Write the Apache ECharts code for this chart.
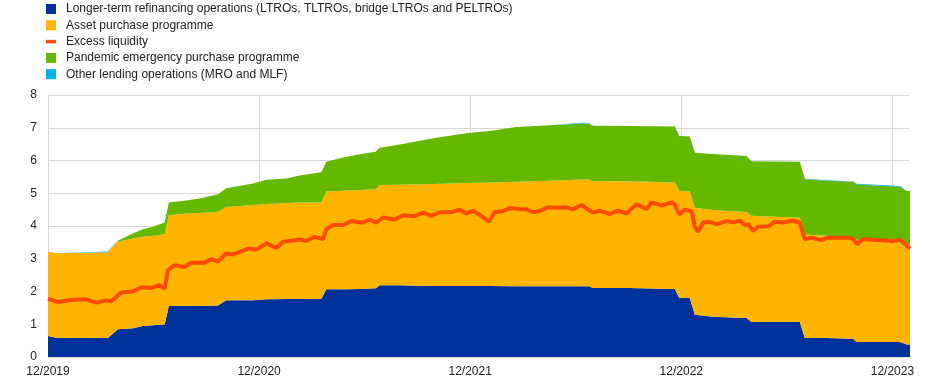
<!DOCTYPE html>
<html><head><meta charset="utf-8">
<script src="https://cdn.jsdelivr.net/npm/echarts@6/dist/echarts.min.js"></script>
<style>html,body{margin:0;padding:0;background:#fff}#c{width:948px;height:384px}</style>
</head><body><div id="c"></div>
<script>
// x positions: months since 12/2019
const xTickLabels = ['12/2019','12/2020','12/2021','12/2022','12/2023'];
const seriesNames = [
  'Longer-term refinancing operations (LTROs, TLTROs, bridge LTROs and PELTROs)',
  'Asset purchase programme',
  'Excess liquidity',
  'Pandemic emergency purchase programme',
  'Other lending operations (MRO and MLF)'
];
const months = [0,0.56,3.4,3.97,4.82,5.39,5.96,6.63,6.87,7.86,8.62,9.66,10.13,11.65,12.41,13.55,14.3,15.54,15.82,16.77,17.72,18.63,18.85,19.99,21.91,23.78,25.11,26.63,28.52,30.42,30.76,30.98,33.07,35.63,35.88,36.48,36.77,37.81,39.71,39.99,42.74,43.02,44.26,45.77,45.96,48.43,48.81,49.0];
const ltro = [0.64,0.58,0.58,0.85,0.88,0.95,0.97,0.99,1.56,1.56,1.56,1.57,1.73,1.73,1.76,1.77,1.77,1.78,2.07,2.07,2.08,2.10,2.19,2.19,2.17,2.17,2.17,2.16,2.16,2.16,2.16,2.11,2.11,2.08,1.81,1.80,1.29,1.23,1.19,1.07,1.07,0.58,0.58,0.56,0.46,0.46,0.38,0.38];
const app = [2.57,2.59,2.62,2.67,2.74,2.72,2.73,2.76,2.77,2.82,2.84,2.86,2.85,2.91,2.91,2.93,2.95,2.94,2.98,3.01,3.02,3.02,3.06,3.07,3.11,3.14,3.16,3.19,3.22,3.26,3.26,3.26,3.26,3.25,3.26,3.25,3.27,3.26,3.24,3.24,3.18,3.16,3.12,3.09,3.12,3.06,3.07,3.06];
const pepp = [0,0,0,0.03,0.15,0.23,0.28,0.36,0.39,0.40,0.44,0.54,0.57,0.66,0.74,0.75,0.82,0.92,0.91,1.01,1.09,1.15,1.14,1.23,1.40,1.52,1.57,1.67,1.70,1.71,1.70,1.69,1.68,1.71,1.68,1.68,1.68,1.71,1.71,1.67,1.71,1.69,1.68,1.70,1.69,1.68,1.62,1.63];
const other = [0,0,0.02,0,0,0,0,0,0,0,0,0,0,0,0,0,0,0,0,0,0,0,0,0,0,0,0,0,0,0.02,0.02,0,0,0,0,0,0,0,0,0,0,0.01,0.02,0.01,0.02,0.02,0.01,0.01];
const elMonths = [0,0.56,1.41,2.17,2.74,3.31,3.59,4.16,4.82,5.30,5.87,6.34,6.63,6.82,7.20,7.76,8.14,8.90,9.28,9.66,10.13,10.51,10.89,11.37,11.84,12.41,12.98,13.36,13.93,14.30,14.68,15.16,15.63,15.82,16.20,16.77,17.24,17.90,18.28,18.66,19.04,19.71,20.18,20.84,21.32,21.79,22.27,23.02,23.40,23.78,24.16,24.64,25.07,25.39,25.87,26.25,26.82,27.20,27.57,27.95,28.43,28.99,29.47,29.85,30.32,30.98,31.37,31.93,32.41,32.88,33.45,34.02,34.30,34.87,35.44,35.63,35.88,36.20,36.58,36.77,36.96,37.24,37.62,38.00,38.57,38.95,39.33,39.61,39.80,40.08,40.37,40.94,41.32,41.79,42.36,42.74,43.02,43.40,43.97,44.26,45.58,45.77,46.00,46.34,46.91,47.67,47.96,48.43,48.72,49.00];
const elValues = [1.78,1.68,1.75,1.76,1.66,1.73,1.70,1.97,2.00,2.13,2.11,2.19,2.09,2.65,2.80,2.75,2.88,2.88,2.99,2.91,3.16,3.13,3.21,3.31,3.28,3.47,3.33,3.52,3.56,3.59,3.54,3.67,3.60,3.90,4.03,4.03,4.15,4.10,4.20,4.10,4.26,4.20,4.33,4.30,4.41,4.31,4.42,4.43,4.50,4.38,4.47,4.30,4.13,4.43,4.45,4.55,4.51,4.51,4.42,4.46,4.57,4.56,4.57,4.51,4.64,4.41,4.47,4.36,4.47,4.38,4.66,4.52,4.72,4.62,4.72,4.66,4.35,4.50,4.45,3.98,3.82,4.11,4.13,4.05,4.15,4.11,4.16,4.03,4.05,3.85,3.98,3.99,4.13,4.11,4.16,4.10,3.59,3.64,3.57,3.64,3.64,3.60,3.44,3.60,3.58,3.56,3.53,3.58,3.45,3.31];

const colors = ['#003299','#FFB400','#FF4B00','#65B800','#00B1EA'];
const font = 'Arial, "Liberation Sans", sans-serif';
const chart = echarts.init(document.getElementById('c'));
function area(name, vals, color) {
  // value dimension first so that it is the stacked dimension
  return {
    name, type:'line', stack:'liq', symbol:'none', z:2, silent:true,
    dimensions:['v','m'], encode:{x:'m', y:'v'},
    lineStyle:{width:0}, itemStyle:{color}, areaStyle:{color, opacity:1},
    emphasis:{disabled:true},
    data: months.map((m,i)=>[vals[i], m])
  };
}
chart.setOption({
  animation:false,
  color: colors,
  grid:{left:48, right:38, top:95, bottom:27, containLabel:false},
  legend:{
    orient:'vertical', left:46, top:3, padding:0, itemWidth:10, itemHeight:10, itemGap:4.3,
    textStyle:{fontSize:12, fontFamily:font, color:'#222', padding:[0,0,0,5]},
    data:[
      {name:seriesNames[0], icon:'rect'},
      {name:seriesNames[1], icon:'rect'},
      {name:seriesNames[2], icon:'path://M0,0h10v3.5h-10z'},
      {name:seriesNames[3], icon:'rect'},
      {name:seriesNames[4], icon:'rect'}
    ]
  },
  xAxis:{
    type:'value', min:0, max:49, interval:12,
    axisLine:{show:false}, axisTick:{show:false},
    axisLabel:{fontSize:12, fontFamily:font, color:'#222', margin:9,
      formatter:v => (v % 12 === 0 ? xTickLabels[v/12] : '')},
    splitLine:{show:true, lineStyle:{color:['#d9d9d9','#d9d9d9','#d9d9d9','#d9d9d9','#d9d9d9','rgba(0,0,0,0)'], width:1}}
  },
  yAxis:{
    type:'value', min:0, max:8, interval:1,
    axisLine:{show:false}, axisTick:{show:false},
    axisLabel:{fontSize:12, fontFamily:font, color:'#222', margin:11},
    splitLine:{show:true, lineStyle:{color:'#d9d9d9', width:1}}
  },
  series:[
    area(seriesNames[0], ltro, colors[0]),
    area(seriesNames[1], app, colors[1]),
    area(seriesNames[3], pepp, colors[3]),
    area(seriesNames[4], other, colors[4]),
    {
      name:seriesNames[2], type:'line', symbol:'none', z:5, silent:true,
      itemStyle:{color:colors[2]}, lineStyle:{color:colors[2], width:4},
      emphasis:{disabled:true},
      data: elMonths.map((m,i)=>[m, elValues[i]])
    }
  ]
});
</script>
</body></html>
